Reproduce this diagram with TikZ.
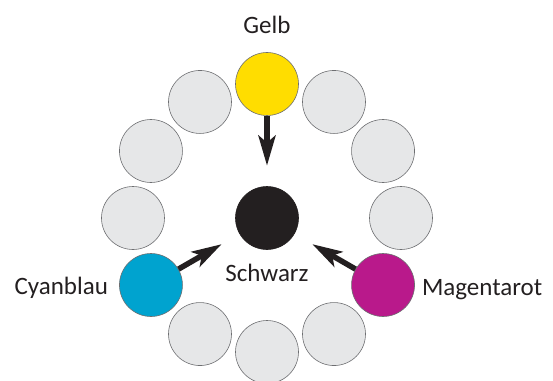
\documentclass[tikz,border=0pt]{standalone}
\usepackage{fontspec}
\setmainfont{Carlito}
\usetikzlibrary{positioning,arrows.meta}

\definecolor{ringgrey}{HTML}{E6E7E8}
\definecolor{edgegrey}{HTML}{6D6E71}
\definecolor{gelbfarbe}{HTML}{FFDD00}
\definecolor{cyanfarbe}{HTML}{00A3CF}
\definecolor{magentafarbe}{HTML}{B9198B}
\definecolor{schwarzfarbe}{HTML}{231F20}

\tikzset{
	dot/.style={circle,draw=edgegrey,line width=0.6pt,minimum size=63pt,inner sep=0pt},
	lbl/.style={font=\fontsize{25}{30}\selectfont,text=schwarzfarbe,inner sep=0pt},
	arr/.style={draw=schwarzfarbe,line width=5.5pt,-{Stealth[length=30pt,width=17pt,inset=7pt]},shorten >=20.5pt}
}

\begin{document}
\begin{tikzpicture}[x=1pt,y=1pt]
	\useasboundingbox (-267,-162) rectangle (286,218);
	%ring
	\foreach \a in {0,30,60,120,150,180,240,270,300}
		\node[dot,fill=ringgrey] (r\a) at (\a:134) {};
	\node[dot,fill=gelbfarbe] (gelb) at (90:134) {};
	\node[dot,fill=cyanfarbe] (cyan) at (210:134) {};
	\node[dot,fill=magentafarbe] (magenta) at (330:134) {};
	
	%centre
	\node[dot,fill=schwarzfarbe,draw=schwarzfarbe] (schwarz) at (0,0) {};
	
	%arrows
	\draw[arr] (gelb) -- (schwarz);
	\draw[arr] (cyan) -- (schwarz);
	\draw[arr] (magenta) -- (schwarz);
	
	%labels
	\node[lbl,above=19pt of gelb,anchor=base] (gelbtxt) {Gelb};
	\node[lbl,below=32pt of schwarz,anchor=base] (schwarztxt) {Schwarz};
	\node[lbl,anchor=base east] (cyantxt) at ([xshift=-11pt,yshift=-9pt]cyan.west) {Cyanblau};
	\node[lbl,anchor=base west] (magentatxt) at ([xshift=7pt,yshift=-10pt]magenta.east) {Magentarot};
\end{tikzpicture}
\end{document}
